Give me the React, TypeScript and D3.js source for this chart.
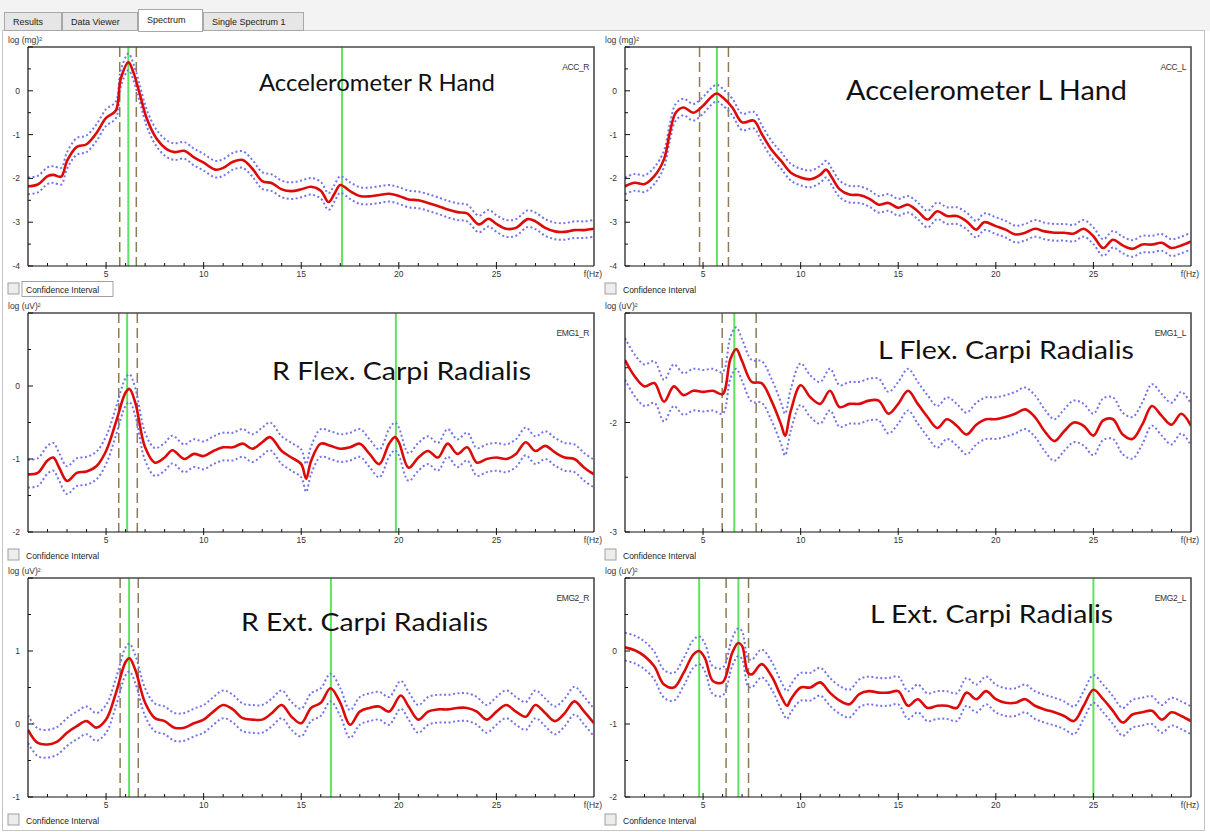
import React from 'react';
import * as d3 from 'd3';

// Log power spectra, [frequency Hz, log power] pairs
const accR: [number, number][] = [
  [1, -2.18], [1.5, -2.14], [2, -1.95], [2.3, -1.92], [2.7, -1.96], [3, -1.6], [3.5, -1.28], [4, -1.22],
  [4.5, -0.97], [5, -0.62], [5.5, -0.45], [5.75, 0.27], [6.15, 0.65], [6.4, 0.42], [6.75, -0.11], [7.1, -0.65],
  [7.6, -1.1], [8.1, -1.33], [8.5, -1.4], [9, -1.37], [9.5, -1.52], [10, -1.64], [10.6, -1.8], [11, -1.76],
  [11.5, -1.62], [12, -1.58], [12.5, -1.78], [13, -2.06], [13.5, -2.11], [14, -2.25], [14.5, -2.29], [15, -2.25],
  [15.5, -2.19], [16, -2.28], [16.4, -2.54], [16.7, -2.35], [17, -2.15], [17.5, -2.29], [18, -2.4], [18.5, -2.41],
  [19, -2.38], [19.5, -2.35], [20, -2.4], [20.5, -2.48], [21, -2.5], [21.5, -2.56], [22, -2.63], [22.5, -2.71],
  [23, -2.77], [23.5, -2.8], [24.1, -3.05], [24.6, -2.92], [25, -3.04], [25.5, -3.15], [26, -3.13], [26.6, -2.93],
  [27, -2.98], [27.5, -3.13], [28, -3.21], [28.5, -3.22], [29, -3.18], [29.5, -3.18], [30, -3.15],
];

const accL: [number, number][] = [
  [1, -2.18], [1.5, -2.1], [2, -2.13], [2.5, -1.95], [3, -1.56], [3.3, -0.95], [3.6, -0.5], [4, -0.38],
  [4.5, -0.5], [5, -0.34], [5.4, -0.15], [5.7, -0.06], [6, -0.15], [6.5, -0.38], [7, -0.72], [7.6, -0.68],
  [8, -0.98], [8.5, -1.34], [9, -1.6], [9.5, -1.87], [10, -1.98], [10.5, -2.02], [11, -1.92], [11.3, -1.8],
  [11.6, -1.98], [12, -2.25], [12.5, -2.37], [13, -2.38], [13.5, -2.46], [14, -2.6], [14.5, -2.56], [15, -2.67],
  [15.5, -2.6], [16, -2.75], [16.5, -2.94], [17, -2.75], [17.5, -2.86], [18, -2.86], [18.5, -2.98], [19, -3.17],
  [19.4, -3.0], [20, -3.09], [20.5, -3.17], [21, -3.28], [21.5, -3.24], [22, -3.15], [22.5, -3.21], [23, -3.24],
  [23.5, -3.24], [24, -3.26], [24.5, -3.15], [25, -3.32], [25.5, -3.59], [26, -3.4], [26.5, -3.53], [27, -3.61],
  [27.5, -3.51], [28, -3.51], [28.5, -3.47], [29, -3.59], [29.5, -3.53], [30, -3.44],
];

const emg1R: [number, number][] = [
  [1, -1.21], [1.5, -1.19], [2, -1.02], [2.3, -0.98], [2.6, -1.12], [3, -1.3], [3.5, -1.19], [4, -1.17],
  [4.5, -1.1], [5, -0.89], [5.5, -0.5], [6, -0.09], [6.2, -0.04], [6.5, -0.23], [7, -0.84], [7.5, -1.05],
  [8, -0.98], [8.4, -0.88], [9, -1.0], [9.5, -0.93], [10, -0.96], [10.5, -0.89], [11, -0.84], [11.5, -0.84],
  [12, -0.79], [12.5, -0.86], [13, -0.77], [13.4, -0.7], [14, -0.89], [14.5, -0.98], [15, -1.07], [15.25, -1.27],
  [15.5, -1.03], [16, -0.79], [16.5, -0.82], [17, -0.86], [17.5, -0.84], [18, -0.79], [18.5, -0.93], [19, -1.07],
  [19.5, -0.79], [19.8, -0.7], [20, -0.77], [20.5, -1.12], [21, -0.98], [21.5, -0.89], [22, -0.98], [22.5, -0.79],
  [23, -0.93], [23.5, -0.84], [24, -1.05], [24.5, -1.0], [25, -0.98], [25.5, -1.0], [26, -0.93], [26.5, -0.77],
  [27, -0.89], [27.5, -0.82], [28, -0.91], [28.5, -0.98], [29, -1.0], [29.5, -1.12], [30, -1.21],
];

const emg1L: [number, number][] = [
  [1, -1.43], [1.5, -1.58], [2, -1.67], [2.5, -1.64], [3, -1.81], [3.5, -1.67], [4, -1.75], [4.5, -1.71],
  [5, -1.72], [5.5, -1.71], [6, -1.74], [6.4, -1.42], [6.7, -1.33], [7, -1.44], [7.5, -1.63], [8, -1.64],
  [8.5, -1.8], [9, -2.02], [9.2, -2.12], [9.5, -1.89], [10, -1.66], [10.5, -1.77], [11, -1.83], [11.5, -1.71],
  [12, -1.86], [12.5, -1.83], [13, -1.83], [13.5, -1.8], [14, -1.8], [14.5, -1.92], [15, -1.83], [15.5, -1.71],
  [16, -1.83], [16.5, -1.95], [17, -2.05], [17.5, -1.97], [18, -2.03], [18.5, -2.11], [19, -2.02], [19.5, -1.97],
  [20, -1.97], [20.5, -1.95], [21, -1.92], [21.5, -1.88], [22, -1.95], [22.5, -2.08], [23, -2.17], [23.5, -2.08],
  [24, -2.0], [24.5, -2.03], [25, -2.12], [25.5, -1.98], [26, -1.97], [26.5, -2.11], [27, -2.15], [27.5, -2.02],
  [28, -1.85], [28.5, -1.94], [29, -2.02], [29.5, -1.92], [30, -2.03],
];

const emg2R: [number, number][] = [
  [1, -0.08], [1.5, -0.26], [2, -0.28], [2.5, -0.24], [3, -0.12], [3.5, -0.03], [4, 0.04], [4.5, -0.05],
  [5, 0.06], [5.5, 0.42], [6, 0.85], [6.2, 0.9], [6.5, 0.74], [7, 0.29], [7.5, 0.08], [8, 0.04],
  [8.5, -0.05], [9, -0.05], [9.5, 0.01], [10, 0.06], [10.5, 0.17], [11, 0.26], [11.5, 0.2], [12, 0.08],
  [12.5, 0.06], [13, 0.06], [13.5, 0.15], [14, 0.26], [14.5, 0.1], [15, 0.01], [15.5, 0.22], [16, 0.29],
  [16.5, 0.49], [17, 0.29], [17.5, -0.01], [18, 0.17], [18.5, 0.22], [19, 0.24], [19.5, 0.17], [20.1, 0.39],
  [20.5, 0.24], [21, 0.06], [21.5, 0.17], [22, 0.2], [22.5, 0.2], [23, 0.22], [23.5, 0.22], [24, 0.17],
  [24.5, 0.06], [25, 0.17], [25.5, 0.26], [26, 0.17], [26.5, 0.1], [27, 0.26], [27.5, 0.15], [28, 0.04],
  [28.5, 0.15], [29, 0.31], [29.5, 0.17], [30, 0.01],
];

const emg2L: [number, number][] = [
  [1, 0.05], [1.5, 0.01], [2, -0.07], [2.5, -0.21], [3, -0.46], [3.5, -0.5], [4, -0.3], [4.5, -0.05],
  [4.8, 0.0], [5.1, -0.1], [5.5, -0.41], [6, -0.43], [6.5, -0.02], [6.8, 0.11], [7, 0.07], [7.3, -0.3],
  [7.5, -0.32], [8, -0.18], [8.5, -0.34], [9, -0.62], [9.3, -0.75], [9.5, -0.66], [10, -0.5], [10.5, -0.5],
  [11, -0.43], [11.5, -0.57], [12, -0.68], [12.5, -0.73], [13, -0.59], [13.5, -0.55], [14, -0.57], [14.5, -0.57],
  [15, -0.55], [15.5, -0.75], [16, -0.66], [16.5, -0.78], [17, -0.75], [17.5, -0.75], [18, -0.78], [18.5, -0.57],
  [19, -0.66], [19.5, -0.55], [20, -0.66], [20.5, -0.71], [21, -0.71], [21.5, -0.66], [22, -0.75], [22.5, -0.8],
  [23, -0.84], [23.5, -0.89], [24, -0.96], [24.5, -0.75], [25, -0.53], [25.5, -0.66], [26, -0.82], [26.5, -0.98],
  [27, -0.87], [27.5, -0.84], [28, -0.82], [28.5, -0.94], [29, -0.84], [29.5, -0.89], [30, -0.96],
];

// Confidence band offsets in log units (above / below the estimate)
const CI_UPPER = 0.2;
const CI_LOWER = 0.18;

// Frequency markers: dashed = band limits, solid = peak frequencies
const accRDashed = [5.7, 6.55];
const accRSolid = [6.14, 17.09];
const accLDashed = [4.82, 6.3];
const accLSolid = [5.71];
const emg1RDashed = [5.65, 6.6];
const emg1RSolid = [6.08, 19.85];
const emg1LDashed = [5.98, 7.72];
const emg1LSolid = [6.6];
const emg2RDashed = [5.72, 6.65];
const emg2RSolid = [6.18, 16.52];
const emg2LDashed = [6.18, 7.33];
const emg2LSolid = [4.8, 6.81, 25.0];

const xTickLabels = ['5', '10', '15', '20', '25'];
const tabLabels = ['Results', 'Data Viewer', 'Spectrum', 'Single Spectrum 1'];

const FREQ_DOMAIN: [number, number] = [1, 30];
const PLOT_W = 566;
const PLOT_H = 219;
const COL_X = [28, 625];
const ROW_Y = [47, 313, 578];

type Panel = {
  name: string;
  title: string;
  unit: string;
  yDomain: [number, number];
  series: [number, number][];
  dashed: number[];
  solid: number[];
  col: number;
  row: number;
  titleDx: number;
  titleDy: number;
  titleSize: number;
  titleWidth: number;
  focus?: boolean;
};

const panels: Panel[] = [
  { name: 'ACC_R', title: 'Accelerometer R Hand', unit: 'log (mg)²', yDomain: [-4, 1], series: accR, dashed: accRDashed, solid: accRSolid, col: 0, row: 0, titleDx: 231, titleDy: 44, titleSize: 24, titleWidth: 236, focus: true },
  { name: 'ACC_L', title: 'Accelerometer L Hand', unit: 'log (mg)²', yDomain: [-4, 1], series: accL, dashed: accLDashed, solid: accLSolid, col: 1, row: 0, titleDx: 221, titleDy: 53, titleSize: 27, titleWidth: 281 },
  { name: 'EMG1_R', title: 'R Flex. Carpi Radialis', unit: 'log (uV)²', yDomain: [-2, 1], series: emg1R, dashed: emg1RDashed, solid: emg1RSolid, col: 0, row: 1, titleDx: 244, titleDy: 67, titleSize: 25, titleWidth: 259 },
  { name: 'EMG1_L', title: 'L Flex. Carpi Radialis', unit: 'log (uV)²', yDomain: [-3, -1], series: emg1L, dashed: emg1LDashed, solid: emg1LSolid, col: 1, row: 1, titleDx: 253, titleDy: 46, titleSize: 25, titleWidth: 256 },
  { name: 'EMG2_R', title: 'R Ext. Carpi Radialis', unit: 'log (uV)²', yDomain: [-1, 2], series: emg2R, dashed: emg2RDashed, solid: emg2RSolid, col: 0, row: 2, titleDx: 213, titleDy: 53, titleSize: 25, titleWidth: 247 },
  { name: 'EMG2_L', title: 'L Ext. Carpi Radialis', unit: 'log (uV)²', yDomain: [-2, 1], series: emg2L, dashed: emg2LDashed, solid: emg2LSolid, col: 1, row: 2, titleDx: 245, titleDy: 45, titleSize: 25, titleWidth: 243 },
];

const SMALL_FONT = '"Liberation Sans", Arial, sans-serif';
const TITLE_FONT = 'Lato, "Open Sans", sans-serif';

function SpectrumPanel({ p, idx }: { p: Panel; idx: number }) {
  const x0 = COL_X[p.col];
  const y0 = ROW_Y[p.row];
  const x = d3.scaleLinear().domain(FREQ_DOMAIN).range([x0, x0 + PLOT_W]);
  const y = d3.scaleLinear().domain(p.yDomain).range([y0 + PLOT_H, y0]);
  const bottom = y0 + PLOT_H;

  const line = d3
    .line<[number, number]>()
    .x((d) => x(d[0]))
    .y((d) => y(d[1]))
    .curve(d3.curveCatmullRom.alpha(0.5));
  const upper = line(p.series.map((d) => [d[0], d[1] + CI_UPPER] as [number, number])) || '';
  const lower = line(p.series.map((d) => [d[0], d[1] - CI_LOWER] as [number, number])) || '';
  const main = line(p.series) || '';

  const majorY = d3.range(Math.ceil(p.yDomain[0]), p.yDomain[1] + 0.001, 1);
  const minorY = d3.range(p.yDomain[0] + 0.5, p.yDomain[1], 1).filter((v) => Math.abs(v - Math.round(v)) > 0.1);
  const xMinor = d3.range(2, 30, 1).filter((v) => v % 5 !== 0);
  const xMajor = xTickLabels.map(Number);
  const clipId = `clip-${idx}`;

  return (
    <g>
      <defs>
        <clipPath id={clipId}>
          <rect x={x0} y={y0} width={PLOT_W} height={PLOT_H} />
        </clipPath>
      </defs>
      <rect x={x0} y={y0} width={PLOT_W} height={PLOT_H} fill="#fff" />
      {/* unit label */}
      <text x={x0 - 20} y={y0 - 4} fontSize={8.5} fontFamily={SMALL_FONT} fill="#333">
        {p.unit}
      </text>
      <g clipPath={`url(#${clipId})`}>
        {p.dashed.map((f, i) => (
          <line key={`d${i}`} x1={x(f)} x2={x(f)} y1={y0} y2={bottom} stroke="#8c7b55" strokeWidth={1.5} strokeDasharray="10 5" />
        ))}
        {p.solid.map((f, i) => (
          <line key={`s${i}`} x1={x(f)} x2={x(f)} y1={y0} y2={bottom} stroke="#5fe25f" strokeWidth={2} />
        ))}
        <path d={upper} fill="none" stroke="#7474ec" strokeWidth={2} strokeDasharray="2 2.5" />
        <path d={lower} fill="none" stroke="#7474ec" strokeWidth={2} strokeDasharray="2 2.5" />
        <path d={main} fill="none" stroke="#dd0a0a" strokeWidth={2.6} strokeLinejoin="round" />
      </g>
      {/* frame: top and right borders */}
      <path d={`M${x0},${y0}H${x0 + PLOT_W}V${bottom}`} fill="none" stroke="#4a4a4a" strokeWidth={1.6} />
      {/* axes */}
      <line x1={x0} x2={x0} y1={y0} y2={bottom} stroke="#111" strokeWidth={1.2} />
      <line x1={x0} x2={x0 + PLOT_W} y1={bottom} y2={bottom} stroke="#111" strokeWidth={1.2} />
      {majorY.map((v) => (
        <g key={`my${v}`}>
          <line x1={x0} x2={x0 + 5} y1={y(v)} y2={y(v)} stroke="#111" />
          {v < p.yDomain[1] - 0.01 && (
            <text x={x0 - 8} y={y(v) + 3} fontSize={8.5} textAnchor="end" fontFamily={SMALL_FONT} fill="#333">
              {v}
            </text>
          )}
        </g>
      ))}
      {minorY.map((v) => (
        <line key={`ny${v}`} x1={x0} x2={x0 + 3} y1={y(v)} y2={y(v)} stroke="#111" />
      ))}
      {xMinor.map((f) => (
        <line key={`nx${f}`} x1={x(f)} x2={x(f)} y1={bottom} y2={bottom - 3} stroke="#111" />
      ))}
      {xMajor.map((f, i) => (
        <g key={`mx${f}`}>
          <line x1={x(f)} x2={x(f)} y1={bottom - 4} y2={bottom + 3} stroke="#111" />
          <text x={x(f)} y={bottom + 11} fontSize={8.5} textAnchor="middle" fontFamily={SMALL_FONT} fill="#333">
            {xTickLabels[i]}
          </text>
        </g>
      ))}
      <text x={x(30) - 1} y={bottom + 11} fontSize={8.5} textAnchor="middle" fontFamily={SMALL_FONT} fill="#333">
        f(Hz)
      </text>
      {/* series id */}
      <text x={x0 + PLOT_W - 5} y={y0 + 23} fontSize={8.5} textAnchor="end" fontFamily={SMALL_FONT} fill="#333" letterSpacing={-0.4}>
        {p.name}
      </text>
      {/* title */}
      <text
        x={x0 + p.titleDx}
        y={y0 + p.titleDy}
        fontSize={p.titleSize}
        fontFamily={TITLE_FONT}
        fill="#111"
        textLength={p.titleWidth}
        lengthAdjust="spacingAndGlyphs"
      >
        {p.title}
      </text>
      {/* confidence interval toggle */}
      <rect x={x0 - 20} y={bottom + 17} width={11} height={11} fill="#ededed" stroke="#a0a0a0" />
      {p.focus && <rect x={x0 - 6} y={bottom + 15.5} width={91} height={15} fill="none" stroke="#8a8a8a" strokeWidth={0.8} />}
      <text x={x0 - 2} y={bottom + 26.5} fontSize={8.5} fontFamily={SMALL_FONT} fill="#222">
        Confidence Interval
      </text>
    </g>
  );
}

export default function App() {
  const tabX = [4, 62, 138, 203, 304];
  return (
    <svg
      width={1210}
      height={832}
      style={{ position: 'absolute', left: 0, top: 0, background: '#fff' }}
    >
      <rect x={0} y={0} width={1210} height={31} fill="#f3f3f3" />
      <rect x={2.5} y={30.5} width={1202} height={800} fill="#fff" stroke="#c4c4c4" />
      {tabLabels.map((t, i) => {
        const active = i === 2;
        const tx = tabX[i];
        const w = tabX[i + 1] - tabX[i] - 1;
        return (
          <g key={t}>
            <rect
              x={tx + 0.5}
              y={active ? 9.5 : 12.5}
              width={w}
              height={active ? 22 : 18}
              fill={active ? '#fff' : '#e6e6e6'}
              stroke="#a8a8a8"
            />
            <text x={tx + 9} y={active ? 23 : 25} fontSize={9} fontFamily={SMALL_FONT} fill="#222">
              {t}
            </text>
          </g>
        );
      })}
      {panels.map((p, i) => (
        <SpectrumPanel key={p.name} p={p} idx={i} />
      ))}
    </svg>
  );
}
